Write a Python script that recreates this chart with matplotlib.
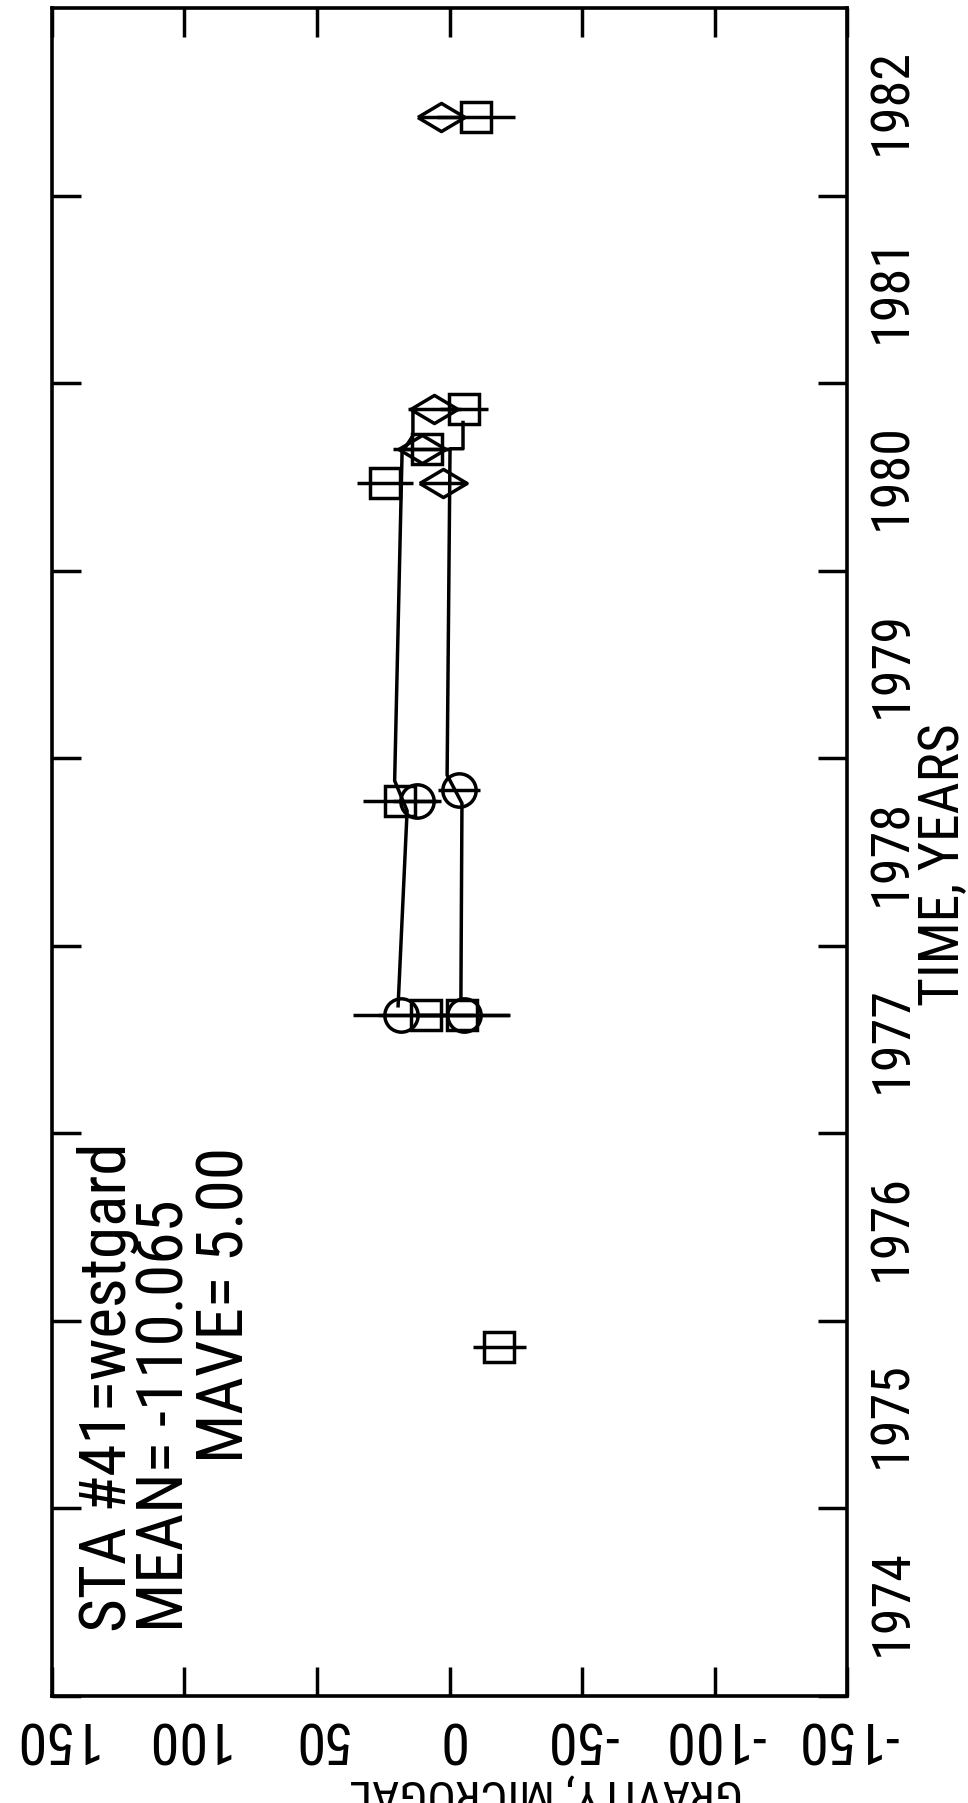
import numpy as np
import matplotlib
matplotlib.use("Agg")
import matplotlib.pyplot as plt
from matplotlib import font_manager

# narrowest lettering available for the plotter-style labels
names = set(f.name for f in font_manager.fontManager.ttflist)
face = 'DejaVu Sans'
for cand in ['Liberation Sans Narrow', 'Roboto Condensed', 'Open Sans Condensed',
             'Noto Sans Condensed', 'Liberation Sans', 'Roboto']:
    if cand in names:
        face = cand
        break
plt.rcParams['font.family'] = [face, 'DejaVu Sans']

# station 41 (westgard) gravity readings, microgal, by meter
sq_t = [1975.86, 1977.63, 1977.63, 1978.77, 1980.47, 1980.65, 1980.86, 1982.42]
sq_g = [-18.7, 8.9, -4.7, 18.7, 24.3, 8.5, -5.5, -10.0]
sq_e = [10, 18, 18, 14, 10.5, 8, 9, 14.7]

ci_t = [1977.63, 1977.63, 1978.77, 1978.83]
ci_g = [18.3, -5.5, 12.3, -3.5]
ci_e = [18, 17, 9, 8]

di_t = [1980.47, 1980.65, 1980.86, 1982.42]
di_g = [2.5, 10.5, 5.8, 3.2]
di_e = [9, 11, 10, 8]

# tie lines between surveys
tie1_t = [1977.68, 1978.72, 1978.88, 1980.63, 1980.72, 1980.85]
tie1_g = [19.4, 16.0, 20.7, 17.9, 13.8, 13.8]
tie2_t = [1977.71, 1978.76, 1978.91, 1980.65, 1980.65, 1980.79]
tie2_g = [-4.3, -4.7, 0.9, -0.2, -5.1, -5.1]

years = np.arange(1974, 1983)
gticks = [150, 100, 50, 0, -50, -100, -150]

lw = 2.5
fig = plt.figure(figsize=(9.68, 18.03), dpi=100)
ax = fig.add_axes([52/968, 1-1696/1803, 795/968, 1688/1803])

ax.plot(tie1_g, tie1_t, 'k-', lw=lw)
ax.plot(tie2_g, tie2_t, 'k-', lw=lw)

for g, t, e in [(sq_g, sq_t, sq_e), (ci_g, ci_t, ci_e), (di_g, di_t, di_e)]:
    ax.errorbar(g, t, xerr=e, fmt='none', ecolor='k', elinewidth=lw, capsize=0)

diamond = [(-1.68, 0), (0, 1), (1.68, 0), (0, -1), (-1.68, 0)]
ax.plot(sq_g, sq_t, ls='none', marker='s', ms=21, mfc='none', mec='k', mew=lw)
ax.plot(ci_g, ci_t, ls='none', marker='o', ms=24, mfc='none', mec='k', mew=lw)
ax.plot(di_g, di_t, ls='none', marker=diamond, ms=34, mfc='none', mec='k', mew=lw)

ax.set_xlim(150, -150)
ax.set_ylim(1974, 1983)
for s in ax.spines.values():
    s.set_linewidth(2.6)

ax.set_xticks(gticks)
ax.set_xticklabels([str(v) for v in gticks], rotation=180, fontsize=42)
ax.tick_params(axis='x', direction='in', length=21, width=lw, top=True, pad=10)

ax.set_yticks(years)
ax.set_yticklabels([])
ax.set_yticks(years + 0.5, minor=True)
ax.set_yticklabels([str(y) for y in years], minor=True, rotation=90,
                   va='center', fontsize=39)
ax.tick_params(axis='y', which='major', direction='in', length=21, width=lw,
               left=True, right=True)
ax.tick_params(axis='y', which='minor', length=0, left=False, right=True,
               labelleft=False, labelright=True, pad=14)

fig.text(944/968, 1-865/1803, 'TIME, YEARS', rotation=90, ha='center',
         va='center', fontsize=40)
fig.text(546/968, 1-1772/1803, 'GRAVITY, MICROGAL', rotation=180, ha='center',
         va='top', fontsize=34)

kw = dict(rotation=90, rotation_mode='anchor', ha='left', va='center', fontsize=47)
fig.text(108/968, 1-1632/1803, 'STA #41=westgard', **kw)
fig.text(166/968, 1-1632/1803, 'MEAN= -110.065', **kw)
fig.text(225/968, 1-1463/1803, 'MAVE= 5.00', **kw)

fig.savefig('out.png', dpi=100)
